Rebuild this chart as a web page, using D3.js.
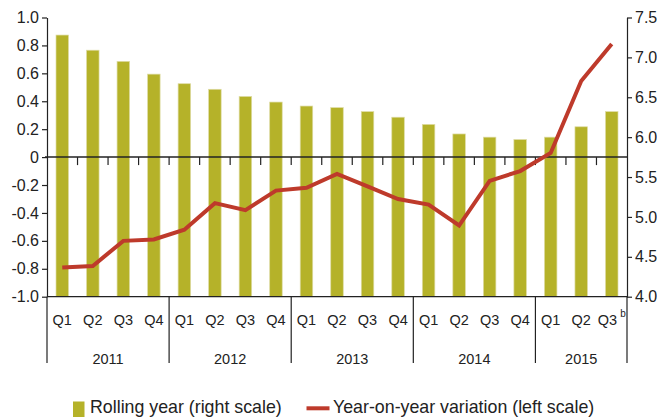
<!DOCTYPE html>
<html lang="en">
<head>
<meta charset="UTF-8">
<title>Rolling year and year-on-year variation</title>
<script src="https://d3js.org/d3.v7.min.js"></script>
<style>
    body { margin: 0; background: #fff; }
    svg { display: block; font-family: "Liberation Sans", Arial, sans-serif; }
    .axis text { font-size: 16px; fill: #222; }
    .axis path, .axis line { stroke: #222; stroke-width: 1.2; }
</style>
</head>
<body>
<div id="chart"></div>
<script type="text/javascript">

    // data
    var years = ["2011", "2012", "2013", "2014", "2015"];
    var quarters = ["Q1", "Q2", "Q3", "Q4", "Q1", "Q2", "Q3", "Q4", "Q1", "Q2", "Q3", "Q4",
                    "Q1", "Q2", "Q3", "Q4", "Q1", "Q2", "Q3"];
    // rolling year (right scale)
    var rolling = [7.28, 7.09, 6.95, 6.79, 6.67, 6.60, 6.51, 6.44, 6.39, 6.37, 6.32, 6.25,
                   6.16, 6.04, 6.00, 5.97, 6.00, 6.13, 6.32];
    // year-on-year variation (left scale)
    var yoy = [-0.79, -0.78, -0.60, -0.59, -0.52, -0.33, -0.38, -0.24, -0.22, -0.12, -0.21, -0.30,
               -0.34, -0.49, -0.17, -0.10, 0.03, 0.545, 0.81];
    var leftTicks = [1.0, 0.8, 0.6, 0.4, 0.2, 0, -0.2, -0.4, -0.6, -0.8, -1.0];
    var rightTicks = [7.5, 7.0, 6.5, 6.0, 5.5, 5.0, 4.5, 4.0];

    var width = 657, height = 417;
    var barColor = "#b5b229";
    var lineColor = "#be3a2b";

    // plot box
    var pLeft = 47, pRight = 627, pTop = 17.5, pBottom = 296.7, catBottom = 363;

    var svg = d3.select("#chart")
        .append("svg")
        .attr("width", width)
        .attr("height", height);

    var idx = d3.range(quarters.length);

    var x = d3.scaleBand()
        .domain(idx)
        .range([pLeft, pRight])
        .padding(0);

    var yL = d3.scaleLinear().domain([-1, 1]).range([pBottom, pTop]);
    var yR = d3.scaleLinear().domain([4, 7.5]).range([pBottom, pTop]);

    var fmt = function(d) { return d === 0 ? "0" : d.toFixed(1); };

    // bars
    var bw = x.bandwidth() * 0.41;
    svg.append("g").selectAll("rect")
        .data(idx)
        .enter()
        .append("rect")
        .attr("x", function(i) { return x(i) + (x.bandwidth() - bw) / 2; })
        .attr("y", function(i) { return yR(rolling[i]); })
        .attr("width", bw)
        .attr("height", function(i) { return yR(4) - yR(rolling[i]); })
        .style("fill", barColor)
        .style("stroke", "#dedca4")
        .style("stroke-width", 0.7);

    // left axis
    svg.append("g")
        .attr("class", "axis")
        .attr("transform", "translate(" + pLeft + ",0)")
        .call(d3.axisLeft(yL).tickValues(leftTicks).tickFormat(fmt).tickSize(5).tickSizeOuter(0).tickPadding(3));

    // right axis
    svg.append("g")
        .attr("class", "axis")
        .attr("transform", "translate(" + pRight + ",0)")
        .call(d3.axisRight(yR).tickValues(rightTicks).tickFormat(d3.format(".1f")).tickSize(5).tickSizeOuter(0).tickPadding(3));

    var grid = svg.append("g")
        .style("stroke", "#222")
        .style("stroke-width", 1.2);

    // zero line with small ticks between quarters
    grid.append("line")
        .attr("x1", pLeft - 2).attr("x2", pRight)
        .attr("y1", yL(0)).attr("y2", yL(0))
        .style("stroke-width", 1.5);
    grid.selectAll(".qtick")
        .data(d3.range(1, quarters.length))
        .enter()
        .append("line")
        .attr("class", "qtick")
        .attr("x1", function(i) { return x(i); })
        .attr("x2", function(i) { return x(i); })
        .attr("y1", yL(0))
        .attr("y2", yL(0) + 8);

    // bottom line and year separators
    grid.append("line")
        .attr("x1", pLeft).attr("x2", pRight)
        .attr("y1", pBottom).attr("y2", pBottom);
    var seps = [0, 4, 8, 12, 16, quarters.length];
    grid.selectAll(".sep")
        .data(seps)
        .enter()
        .append("line")
        .attr("class", "sep")
        .attr("x1", function(i) { return i < quarters.length ? x(i) : pRight; })
        .attr("x2", function(i) { return i < quarters.length ? x(i) : pRight; })
        .attr("y1", pBottom)
        .attr("y2", catBottom);

    // quarter labels
    var ql = svg.append("g").selectAll("text")
        .data(idx)
        .enter()
        .append("text")
        .attr("x", function(i) { return x(i) + x.bandwidth() / 2; })
        .attr("y", 325)
        .attr("text-anchor", "middle")
        .style("font-size", "14.5px")
        .style("fill", "#222")
        .text(function(i) { return quarters[i]; });
    ql.filter(function(i) { return i === quarters.length - 1; })
        .append("tspan")
        .attr("dx", 3)
        .attr("dy", -8)
        .style("font-size", "10px")
        .text("b");

    // year labels
    svg.append("g").selectAll("text")
        .data(years)
        .enter()
        .append("text")
        .attr("x", function(d, k) {
            var a = x(seps[k]);
            var b = seps[k + 1] < quarters.length ? x(seps[k + 1]) : pRight;
            return (a + b) / 2;
        })
        .attr("y", 364)
        .attr("text-anchor", "middle")
        .style("font-size", "14.5px")
        .style("fill", "#222")
        .text(function(d) { return d; });

    // line
    var line = d3.line()
        .x(function(i) { return x(i) + x.bandwidth() / 2; })
        .y(function(i) { return yL(yoy[i]); });
    svg.append("path")
        .datum(idx)
        .attr("d", line)
        .style("fill", "none")
        .style("stroke", lineColor)
        .style("stroke-width", 4);

    // legend
    var lg = svg.append("g");
    lg.append("rect")
        .attr("x", 73).attr("y", 401.5)
        .attr("width", 11.5).attr("height", 15.5)
        .style("fill", barColor);
    lg.append("text")
        .attr("x", 90).attr("y", 413)
        .style("font-size", "17.8px")
        .style("fill", "#222")
        .text("Rolling year (right scale)");
    lg.append("line")
        .attr("x1", 306.5).attr("x2", 329.5)
        .attr("y1", 408.3).attr("y2", 408.3)
        .style("stroke", lineColor)
        .style("stroke-width", 4);
    lg.append("text")
        .attr("x", 333).attr("y", 413)
        .style("font-size", "17.8px")
        .style("fill", "#222")
        .text("Year-on-year variation (left scale)");

</script>
</body>
</html>
